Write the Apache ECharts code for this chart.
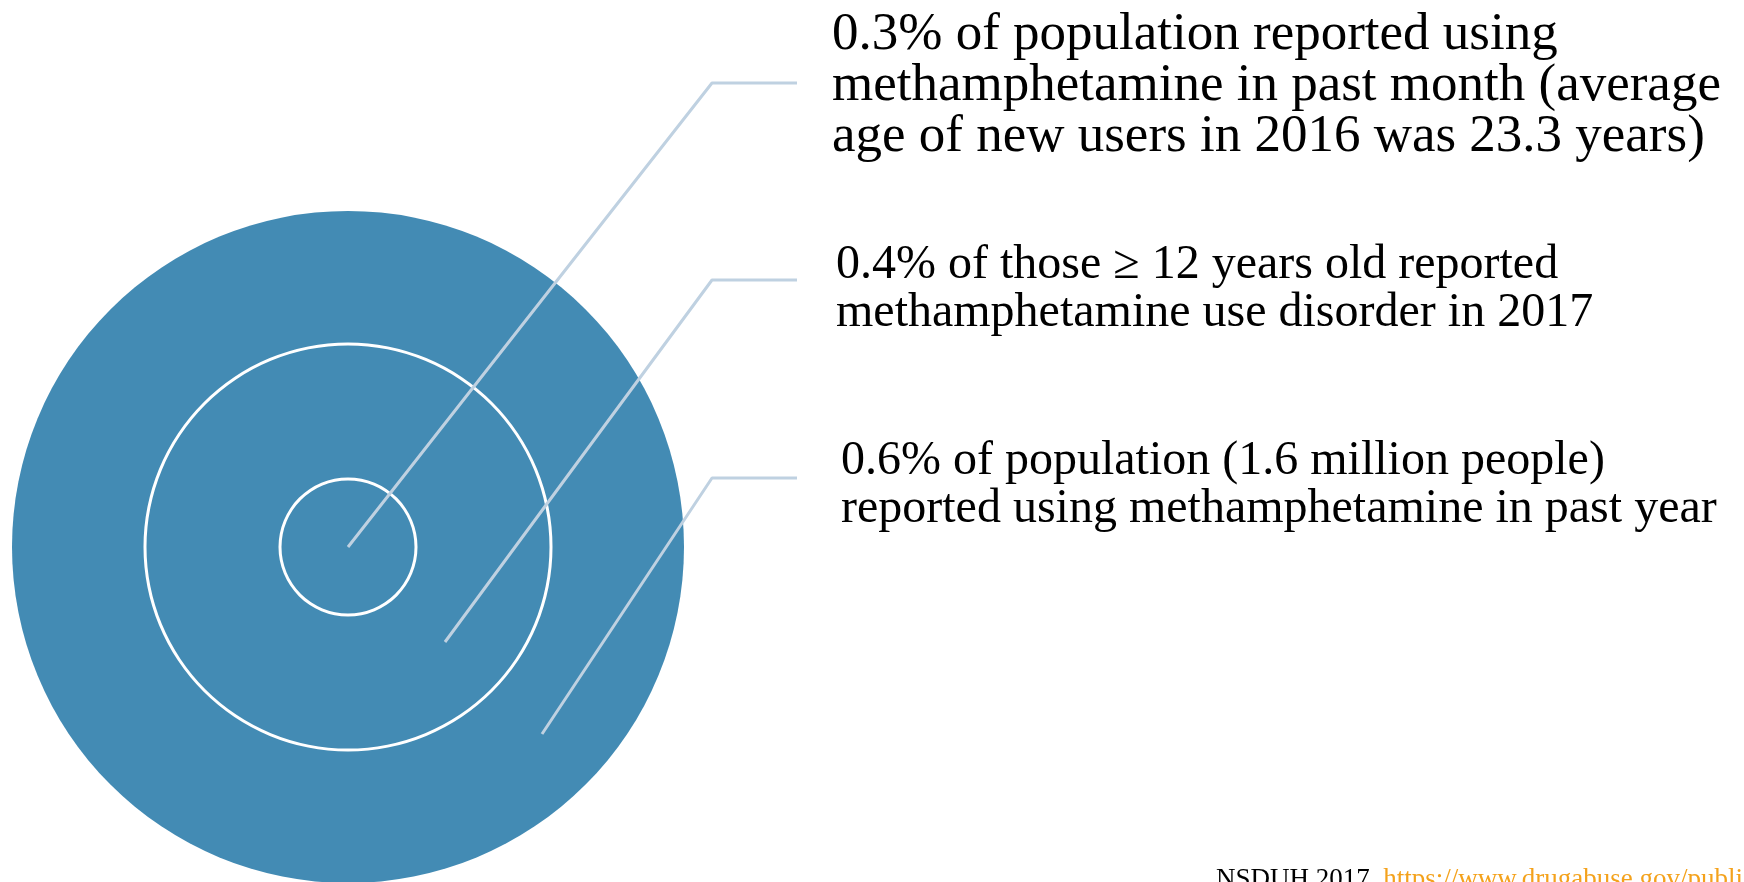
<!DOCTYPE html>
<html><head><meta charset="utf-8">
<script src="https://cdn.jsdelivr.net/npm/echarts@6/dist/echarts.min.js"></script>
<style>html,body{margin:0;padding:0;background:#fff;}#c{width:1744px;height:882px;}</style>
</head><body><div id="c"></div>
<script>
// Content
const labels = [
  "0.3% of population reported using\nmethamphetamine in past month (average\nage of new users in 2016 was 23.3 years)",
  "0.4% of those \u2265 12 years old reported\nmethamphetamine use disorder in 2017",
  "0.6% of population (1.6 million people)\nreported using methamphetamine in past year"
];
const ringNames = ["Past month", "Use disorder", "Past year"];
const sourceLabel = "NSDUH 2017.";
const sourceUrl = "https://www.drugabuse.gov/publications/research-reports/methamphetamine/overview";

// Diagram layout (pixel space)
const center = [348, 547];
const ringRadii = [68, 203, 336];
const leaderStart = [[348, 547], [445, 642], [542, 734]];
const leaderElbow = [[712, 83], [712, 280], [712, 478]];
const leaderEndX = 797;
const labelPos = [[832, 9], [836, 241], [841, 437]];
const labelFont = [[53, 51], [48, 48], [48, 48]];

const chart = echarts.init(document.getElementById('c'), null, {renderer: 'canvas'});
const blue = '#438bb4';
const lineColor = '#bfd1e1';

const series = [];
series.push({
  type: 'pie', center: center, radius: [0, ringRadii[2]], silent: true,
  label: {show: false}, labelLine: {show: false}, animation: false,
  data: [{name: ringNames[2], value: 1, itemStyle: {color: blue}}]
});
[0, 1].forEach(i => {
  series.push({
    type: 'pie', center: center, radius: [ringRadii[i] - 1.5, ringRadii[i] + 1.5], silent: true,
    label: {show: false}, labelLine: {show: false}, animation: false,
    data: [{name: ringNames[i], value: 1, itemStyle: {color: '#ffffff'}}]
  });
});
leaderStart.forEach((s, i) => {
  series.push({
    type: 'line', xAxisIndex: 0, yAxisIndex: 0, symbol: 'none', silent: true, animation: false,
    lineStyle: {color: lineColor, width: 3},
    z: 5,
    data: [s, leaderElbow[i], [leaderEndX, leaderElbow[i][1]]]
  });
});

const graphic = labels.map((t, i) => ({
  type: 'text', left: labelPos[i][0], top: labelPos[i][1],
  style: {text: t, font: labelFont[i][0] + 'px "Liberation Serif"', fill: '#000', lineHeight: labelFont[i][1]}
}));
graphic.push({
  type: 'text', left: 1216, top: 866,
  style: {
    text: '{a|' + sourceLabel + '} {b|' + sourceUrl + '}',
    rich: {
      a: {fontFamily: 'Liberation Serif', fontSize: 27, fill: '#000', color: '#000'},
      b: {fontFamily: 'Liberation Serif', fontSize: 27, fill: '#f4a21c', color: '#f4a21c'}
    },
    font: '27px "Liberation Serif"'
  }
});

chart.setOption({
  animation: false,
  grid: {left: 0, right: 0, top: 0, bottom: 0},
  xAxis: {type: 'value', min: 0, max: 1744, show: false},
  yAxis: {type: 'value', min: 0, max: 882, inverse: true, show: false},
  series: series,
  graphic: graphic
});
</script>
</body></html>
